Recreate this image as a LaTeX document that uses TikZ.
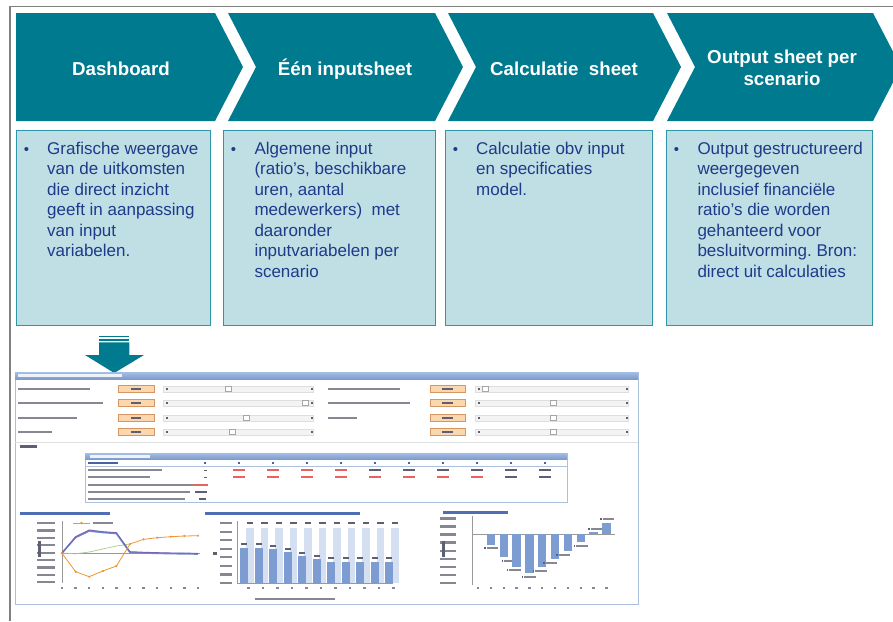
\documentclass[tikz,border=0pt]{standalone}
\usepackage{fontspec}
\setmainfont{Liberation Sans}
\frenchspacing
\definecolor{chevteal}{RGB}{0,122,143}
\definecolor{boxfill}{RGB}{192,223,228}
\definecolor{boxline}{RGB}{46,150,166}
\definecolor{txtblue}{RGB}{30,58,138}
\definecolor{framegray}{RGB}{128,128,128}
\definecolor{hdrblue}{RGB}{122,152,204}
\definecolor{hdrlight}{RGB}{165,190,228}
\definecolor{panelline}{RGB}{170,192,220}
\definecolor{obfill}{RGB}{252,214,172}
\definecolor{obline}{RGB}{214,150,100}
\definecolor{trackfill}{RGB}{243,243,243}
\definecolor{trackline}{RGB}{222,222,222}
\definecolor{lblgray}{RGB}{135,135,148}
\definecolor{txtdark}{RGB}{95,95,115}
\definecolor{redv}{RGB}{236,96,96}
\definecolor{titleblue}{RGB}{80,110,180}
\definecolor{barblue}{RGB}{125,156,210}
\definecolor{barlight}{RGB}{212,223,242}
\definecolor{cashorange}{RGB}{240,150,50}
\definecolor{linepurple}{RGB}{120,100,180}
\definecolor{lineblue}{RGB}{110,140,200}
\definecolor{linegreen}{RGB}{170,200,140}
\tikzset{
  chev/.style={fill=chevteal},
  chevtext/.style={text=white, font=\fontsize{18.7}{22}\selectfont\bfseries, align=center, inner sep=0pt, anchor=base},
  infobox/.style={fill=boxfill, draw=boxline, line width=0.9pt},
  infotext/.style={text=txtblue, font=\fontsize{17}{20.5}\selectfont, align=left, inner sep=0pt, anchor=base west},
  bul/.style={text=txtblue, font=\fontsize{15}{18}\selectfont, inner sep=0pt, anchor=base},
  lbl/.style={fill=lblgray},
  dark/.style={fill=txtdark},
  obox/.style={fill=obfill, draw=obline, line width=0.6pt},
  track/.style={fill=trackfill, draw=trackline, line width=0.4pt},
  thumb/.style={fill=white, draw=gray!70, line width=0.4pt},
  tabline/.style={draw=panelline, line width=0.7pt},
  axis/.style={draw=gray!80, line width=0.6pt},
}
\begin{document}
\begin{tikzpicture}[x=1pt,y=-1pt]
\useasboundingbox (0,0) rectangle (893,621);
\clip (0,0) rectangle (893,621);
\fill[white] (0,0) rectangle (893,621);
% outer frame
\draw[framegray, line width=1.6pt] (10,621) -- (10,6.5) -- (893,6.5);
% chevrons
\fill[chev] (16,13) -- (215,13) -- (243,67) -- (215,121) -- (16,121) -- cycle;
\foreach \a/\b in {228/435, 448/653, 667/873}
  \fill[chev] (\a,13) -- (\b,13) -- (\b+28,67) -- (\b,121) -- (\a,121) -- (\a+28,67) -- cycle;
\node[chevtext] (c1) at (121,75) {Dashboard};
\node[chevtext] (c2) at (345,75) {Één inputsheet};
\node[chevtext] (c3) at (564,75) {Calculatie~ sheet};
\node[chevtext] (c4) at (782,85.3) {Output sheet per\\scenario};
% info boxes
\draw[infobox] (16,130) rectangle (210,325);
\draw[infobox] (223,130) rectangle (435,325);
\draw[infobox] (445,130) rectangle (652,325);
\draw[infobox] (666,130) rectangle (872,325);
\node[bul] (u1) at (26.5,154.3) {•};
\node[bul] (u2) at (233.5,154.3) {•};
\node[bul] (u3) at (455.5,154.3) {•};
\node[bul] (u4) at (676.5,154.3) {•};
\node[infotext] (t1) at (47,256.8) {Grafische weergave\\van de uitkomsten\\die direct inzicht\\geeft in aanpassing\\van input\\variabelen.};
\node[infotext] (t2) at (254.3,277.3) {Algemene input\\(ratio’s, beschikbare\\uren, aantal\\medewerkers)~ met\\daaronder\\inputvariabelen per\\scenario};
\node[infotext] (t3) at (476,195.3) {Calculatie obv input\\en specificaties\\model.};
\node[infotext] (t4) at (697.3,277.3) {Output gestructureerd\\weergegeven\\inclusief financiële\\ratio’s die worden\\gehanteerd voor\\besluitvorming. Bron:\\direct uit calculaties};
% striped down arrow
\fill[chev] (99,336) rectangle (129.3,337.3);
\fill[chev] (99,339) rectangle (129.3,340.7);
\fill[chev] (99,342.3) -- (129.3,342.3) -- (129.3,355) -- (144,355) -- (114.2,373) -- (85,355) -- (99,355) -- cycle;
% ---------- dashboard screenshot ----------
\draw[panelline, line width=0.8pt] (15,372) rectangle (638,604);
\shade[top color=hdrlight, bottom color=hdrblue] (15,372) rectangle (638,379.5);
\fill[white, opacity=0.85] (18,374.3) rectangle (122,377.3);
% input rows
\foreach \y/\lw/\ta/\rw/\tb in {389/90/228/400/485, 403/103/305/410/553, 418/77/246/357/553, 432/52/232/0/553} {
  \fill[lbl] (18,\y-1.2) rectangle (\lw,\y+1.2);
  \draw[obox] (118,\y-3.5) rectangle (154,\y+3.5);
  \fill[dark] (131,\y-1) rectangle (141,\y+1);
  \draw[track] (163,\y-3) rectangle (313,\y+3);
  \fill[dark] (165.5,\y-1) rectangle (167.5,\y+1);
  \fill[dark] (310.5,\y-1) rectangle (312.5,\y+1);
  \draw[thumb] (\ta-3,\y-2.8) rectangle (\ta+3,\y+2.2);
  \ifnum\rw>0 \fill[lbl] (328,\y-1.2) rectangle (\rw,\y+1.2); \fi
  \draw[obox] (430,\y-3.5) rectangle (465,\y+3.5);
  \fill[dark] (442,\y-1) rectangle (453,\y+1);
  \draw[track] (475,\y-3) rectangle (628,\y+3);
  \fill[dark] (477.5,\y-1) rectangle (479.5,\y+1);
  \fill[dark] (625.5,\y-1) rectangle (627.5,\y+1);
  \draw[thumb] (\tb-3,\y-2.8) rectangle (\tb+3,\y+2.2);
}
\draw[gray!25, line width=0.5pt] (15,442) -- (638,442);
\fill[dark] (20,445) rectangle (37,447.6);
% ratio table
\draw[tabline] (85,453) rectangle (567,502);
\shade[top color=hdrlight, bottom color=hdrblue] (85,453) rectangle (567,459.5);
\fill[white, opacity=0.85] (90,455) rectangle (150,457.5);
\fill[txtblue!80] (88,461.8) rectangle (118,464.4);
\draw[tabline] (85,466.5) -- (567,466.5);
\fill[lbl] (88,469) rectangle (162,471.3);
\fill[lbl] (88,476) rectangle (150,478.3);
\fill[lbl] (88,484) rectangle (195,486.3);
\fill[lbl] (88,491) rectangle (190,493.3);
\fill[lbl] (88,498) rectangle (185,500.3);
\foreach \c [evaluate=\c as \xc using 205+34*\c] in {0,...,10} {
  \fill[txtblue!80] (\xc-1.3,461.8) rectangle (\xc+1.3,464.4);
}
\fill[dark] (203.5,469.6) rectangle (206.5,470.8);
\fill[dark] (203.5,476.6) rectangle (206.5,477.8);
\foreach \c [evaluate=\c as \xc using 205+34*\c] in {1,...,10} {
  \ifnum\c<5 \def\vc{redv}\else\def\vc{txtdark}\fi
  \fill[\vc] (\xc-6,469) rectangle (\xc+6,471.3);
  \ifnum\c<9 \def\vc{redv}\else\def\vc{txtdark}\fi
  \fill[\vc] (\xc-6,476) rectangle (\xc+6,478.3);
}
\fill[redv] (193,484) rectangle (208,486.3);
\fill[dark] (195,491) rectangle (207,493.3);
\fill[dark] (199,498) rectangle (206,500.3);
% chart 1: cost development
\fill[titleblue] (20,512) rectangle (110,514.6);
\draw[cashorange, line width=0.8pt] (73,523) -- (90,523);
\fill[cashorange] (81.5,523) circle (1.3);
\fill[lbl] (93,522) rectangle (113,524.4);
\foreach \k in {0,...,8} \fill[lbl] (37,{522+7.4*\k}) rectangle (55,{524.2+7.4*\k});
\fill[dark] (38.3,541) rectangle (40.8,557);
\draw[axis] (62,521) -- (62,583);
\draw[axis] (62,553) -- (200,553);
\foreach \i in {0,...,10} \fill[lbl] ({60.8+13.6*\i},587) rectangle ({63.2+13.6*\i},589.4);
\draw[linegreen, line width=0.7pt] (62,553) -- (75.6,553.8) -- (89.2,552) -- (102.8,549) -- (116.4,546) -- (130,544);
\draw[lineblue, line width=1.6pt] (62,553) -- (75.6,537.5) -- (89.2,531) -- (102.8,532.5) -- (116.4,533.5) -- (130,552.5) -- (143.6,553) -- (157.2,553.3) -- (170.8,553.6) -- (184.4,553.8) -- (198,554);
\draw[linepurple, line width=1pt] (62,553) -- (75.6,536.7) -- (89.2,530) -- (102.8,531.7) -- (116.4,532.7) -- (130,551.7) -- (143.6,552.3) -- (157.2,552.7) -- (170.8,553) -- (184.4,553) -- (198,553.5);
\draw[cashorange, line width=0.8pt] (62,553.3) -- (75.6,571.7) -- (89.2,576.7) -- (102.8,571) -- (116.4,566) -- (130,544) -- (143.6,539.3) -- (157.2,537.7) -- (170.8,536.7) -- (184.4,536) -- (198,535.7);
\foreach \i/\v in {0/553.3,1/571.7,2/576.7,3/571,4/566,5/544,6/539.3,7/537.7,8/536.7,9/536,10/535.7}
  \fill[cashorange] ({62+13.6*\i},\v) circle (1.2);
% chart 2: fte
\fill[titleblue] (205,512) rectangle (360,514.6);
\foreach \k in {0,...,7} \fill[lbl] (220,{522+8.57*\k}) rectangle (232,{524.2+8.57*\k});
\fill[dark] (213,552) rectangle (217,554.5);
\foreach \i/\t in {0/547.7,1/547.7,2/549,3/552,4/556,5/559,6/561.7,7/561.7,8/561.7,9/561.7,10/561.7} {
  \fill[barlight] ({246+14.5*\i},528) rectangle ({253.5+14.5*\i},583);
  \fill[barblue] ({240+14.5*\i},\t) rectangle ({248+14.5*\i},583);
  \fill[dark] ({246.5+14.5*\i},522) rectangle ({253+14.5*\i},524.4);
  \fill[dark] ({241+14.5*\i},\t-4.5) rectangle ({247+14.5*\i},\t-2.3);
  \fill[lbl] ({247+14.5*\i},587) rectangle ({249.5+14.5*\i},589.4);
}
\draw[axis] (237,521) -- (237,583) -- (393,583);
\fill[lbl] (255,597.5) rectangle (335,599.8);
% chart 3: cumulative cashflow
\fill[titleblue] (443,511) rectangle (508,513.6);
\foreach \k in {0,...,8} \fill[lbl] (440,{517.3+8.05*\k}) rectangle (456,{519.5+8.05*\k});
\fill[dark] (442,541) rectangle (444.5,557);
\draw[axis] (472,516) -- (472,585);
\draw[axis] (472,534) -- (615,534);
\foreach \i/\v/\lx/\ly in {1/545/491/548, 2/557.3/508.5/560.7, 3/566.7/513.5/570, 4/572.7/528.5/577, 5/567.3/539.5/571, 6/559.3/550/563, 7/551/563/555, 8/541.7/580.5/546, 9/531.5/595/529, 10/523/607/519} {
  \fill[barblue] ({478+12.85*\i-4.2},534) rectangle ({478+12.85*\i+4.2},\v);
  \fill[dark] (\lx-7,\ly-1) rectangle (\lx-5.5,\ly+1);
  \fill[lbl] (\lx-4.5,\ly-1.1) rectangle (\lx+7,\ly+1.1);
}
\foreach \i in {0,...,10} \fill[lbl] ({476.8+12.85*\i},587) rectangle ({479.2+12.85*\i},589.4);
\end{tikzpicture}
\end{document}
